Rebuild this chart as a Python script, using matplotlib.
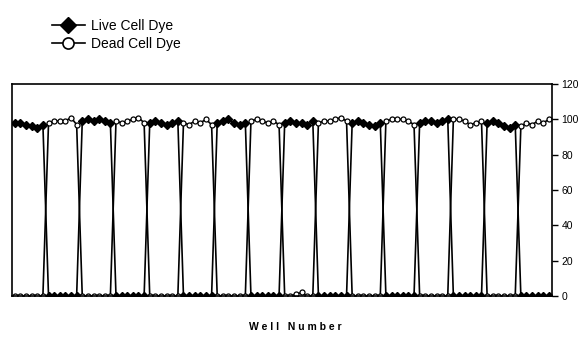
import numpy as np
import matplotlib.pyplot as plt
from matplotlib.lines import Line2D

plt.rcParams['font.family'] = ['Liberation Sans', 'DejaVu Sans']

# 96 wells, blocks of 6 alternating live / dead
live = [98, 98, 97, 96, 95, 97,
        0, 0, 0, 0, 0, 0,
        99, 100, 99, 100, 99, 98,
        0, 0, 0, 0, 0, 0,
        98, 99, 98, 97, 98, 99,
        0, 0, 0, 0, 0, 0,
        98, 99, 100, 98, 97, 98,
        0, 0, 0, 0, 0, 0,
        98, 99, 98, 98, 97, 99,
        0, 0, 0, 0, 0, 0,
        98, 99, 98, 97, 96, 98,
        0, 0, 0, 0, 0, 0,
        98, 99, 99, 98, 99, 100,
        0, 0, 0, 0, 0, 0,
        98, 99, 98, 96, 95, 97,
        0, 0, 0, 0, 0, 0]

dead = [0, 0, 0, 0, 0, 0,
        98, 99, 99, 99, 101, 97,
        0, 0, 0, 0, 0, 0,
        99, 98, 99, 100, 101, 98,
        0, 0, 0, 0, 0, 0,
        98, 97, 99, 98, 100, 97,
        0, 0, 0, 0, 0, 0,
        99, 100, 99, 98, 99, 97,
        0, 0, 1, 2, 0, 0,
        98, 99, 99, 100, 101, 99,
        0, 0, 0, 0, 0, 0,
        99, 100, 100, 100, 99, 97,
        0, 0, 0, 0, 0, 0,
        100, 100, 99, 97, 98, 99,
        0, 0, 0, 0, 0, 0,
        96, 98, 97, 99, 98, 100]

wells = np.arange(1, len(live) + 1)

fig = plt.figure(figsize=(5.87, 3.37), dpi=100)
ax = fig.add_axes([0.0204, 0.1217, 0.9196, 0.629])

ax.plot(wells, live, color='black', lw=1.2, marker='D', ms=4,
        mfc='black', mec='black')
ax.plot(wells, dead, color='black', lw=1.2, marker='o', ms=3.6,
        mfc='white', mec='black', mew=0.9)

ax.set_xlim(0.5, len(live) + 0.5)
ax.set_ylim(0, 120)
ax.set_yticks([0, 20, 40, 60, 80, 100, 120])
ax.yaxis.tick_right()
ax.tick_params(axis='y', direction='out', length=4, width=1, labelsize=7.5, pad=3)
ax.set_xticks([])
for s in ax.spines.values():
    s.set_linewidth(1.2)

fig.text(295 / 587, 1 - 327 / 337, 'W e l l   N u m b e r', fontsize=7.5,
         fontweight='bold', ha='center', va='center')

h1 = Line2D([], [], color='black', lw=1.2, marker='D', ms=8.5, mfc='black', mec='black')
h2 = Line2D([], [], color='black', lw=1.2, marker='o', ms=8, mfc='white', mec='black', mew=1.2)
fig.legend(handles=[h1, h2], labels=['Live Cell Dye', 'Dead Cell Dye'],
           loc='upper left', bbox_to_anchor=(0.088, 0.945), borderpad=0,
           borderaxespad=0, frameon=False, fontsize=10, handlelength=2.4,
           handletextpad=0.4, labelspacing=0.3)

fig.savefig('out.png', dpi=100)
